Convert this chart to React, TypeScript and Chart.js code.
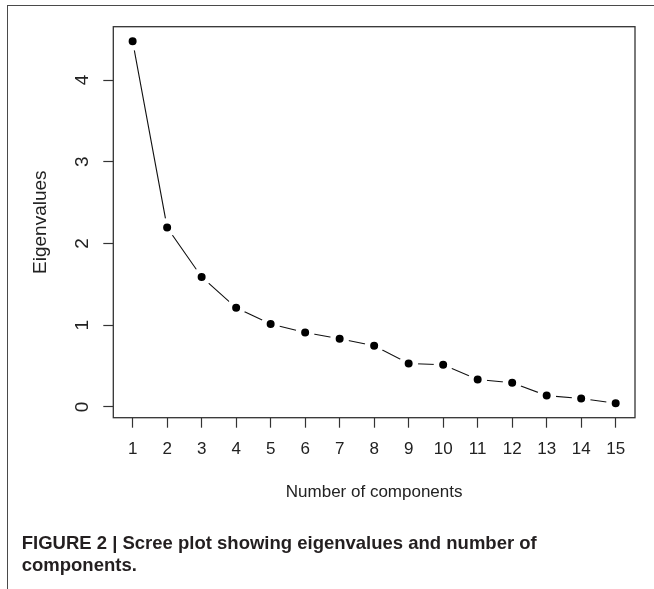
import React, { useEffect, useRef } from "react";
import { Chart, registerables } from "chart.js";

Chart.register(...registerables);

// ---- data ----
const components: number[] = [1, 2, 3, 4, 5, 6, 7, 8, 9, 10, 11, 12, 13, 14, 15];
const eigenvalues: number[] = [
  4.476, 2.196, 1.59, 1.213, 1.015, 0.911, 0.834, 0.749, 0.532, 0.516, 0.335,
  0.295, 0.138, 0.102, 0.045,
];
const yTickValues: number[] = [0, 1, 2, 3, 4];
const xTitle = "Number of components";
const yTitle = "Eigenvalues";
const captionLine1 = "FIGURE 2 | Scree plot showing eigenvalues and number of";
const captionLine2 = "components.";

const FONT = "'Liberation Sans', Arial, Helvetica, sans-serif";

export default function App() {
  const canvasRef = useRef<HTMLCanvasElement | null>(null);

  useEffect(() => {
    if (!canvasRef.current) return;
    const xMin = Math.min(...components);
    const xMax = Math.max(...components);
    const yMin = Math.min(...eigenvalues);
    const yMax = Math.max(...eigenvalues);
    const xPad = (xMax - xMin) * 0.04;
    const yPad = (yMax - yMin) * 0.04;

    const boxPlugin = {
      id: "rbox",
      afterDraw(chart: any) {
        const { ctx, chartArea: a } = chart;
        ctx.save();
        ctx.strokeStyle = "#333";
        ctx.lineWidth = 1.3;
        ctx.strokeRect(a.left, a.top, a.right - a.left, a.bottom - a.top);
        ctx.restore();
      },
    };

    const chart = new Chart(canvasRef.current, {
      type: "line",
      data: {
        datasets: [
          {
            data: components.map((c, i) => ({ x: c, y: eigenvalues[i] })),
            borderColor: "#111",
            borderWidth: 1.1,
            tension: 0,
            fill: false,
            pointRadius: 6.75,
            pointHoverRadius: 6.75,
            pointBackgroundColor: "#000",
            pointBorderColor: "#fff",
            pointBorderWidth: 5.5,
            pointHoverBorderWidth: 5.5,
          },
        ],
      },
      options: {
        responsive: false,
        animation: false,
        events: [],
        layout: { padding: { left: 0, top: 21.3, right: 19, bottom: 86.8 } },
        plugins: {
          legend: { display: false },
          tooltip: { enabled: false },
        },
        scales: {
          x: {
            type: "linear",
            min: xMin - xPad,
            max: xMax + xPad,
            afterBuildTicks: (s: any) => {
              s.ticks = components.map((v) => ({ value: v }));
            },
            afterFit: (s: any) => {
              s.height = 84.5;
            },
            grid: {
              display: true,
              drawOnChartArea: false,
              drawTicks: true,
              tickLength: 10,
              tickColor: "#333",
              tickWidth: 1.2,
            },
            border: { display: false },
            ticks: {
              autoSkip: false,
              maxRotation: 0,
              minRotation: 0,
              padding: 11,
              color: "#222",
              font: { family: FONT, size: 17 },
            },
            title: {
              display: true,
              text: xTitle,
              color: "#222",
              font: { family: FONT, size: 17 },
              padding: { top: 0, bottom: 0 },
            },
          },
          y: {
            type: "linear",
            min: yMin - yPad,
            max: yMax + yPad,
            afterBuildTicks: (s: any) => {
              s.ticks = yTickValues.map((v) => ({ value: v }));
            },
            afterFit: (s: any) => {
              s.width = 113.3;
            },
            grid: {
              display: true,
              drawOnChartArea: false,
              drawTicks: true,
              tickLength: 10,
              tickColor: "#333",
              tickWidth: 1.2,
            },
            border: { display: false },
            ticks: {
              autoSkip: false,
              minRotation: 90,
              maxRotation: 90,
              crossAlign: "center",
              padding: 15.3,
              color: "#222",
              font: { family: FONT, size: 19 },
            },
            title: {
              display: true,
              text: yTitle,
              color: "#222",
              font: { family: FONT, size: 19 },
              padding: { top: 29.6, bottom: 0 },
            },
          },
        },
      },
      plugins: [boxPlugin],
    } as any);

    return () => {
      chart.destroy();
    };
  }, []);

  return (
    <div
      style={{
        position: "absolute",
        left: 0,
        top: 0,
        width: 654,
        height: 589,
        background: "#fff",
        overflow: "hidden",
      }}
    >
      <div
        style={{
          position: "absolute",
          left: 6.5,
          top: 4.5,
          width: 700,
          height: 700,
          borderTop: "1.5px solid #4a4a4a",
          borderLeft: "1.5px solid #4a4a4a",
        }}
      />
      <canvas
        ref={canvasRef}
        width={654}
        height={589}
        style={{ position: "absolute", left: 0, top: 0, width: 654, height: 589 }}
      />
      <div
        style={{
          position: "absolute",
          left: 21.7,
          top: 531.6,
          fontFamily: FONT,
          fontWeight: "bold",
          fontSize: 18.5,
          lineHeight: "22px",
          color: "#231f20",
          whiteSpace: "nowrap",
        }}
      >
        {captionLine1}
        <br />
        {captionLine2}
      </div>
    </div>
  );
}
